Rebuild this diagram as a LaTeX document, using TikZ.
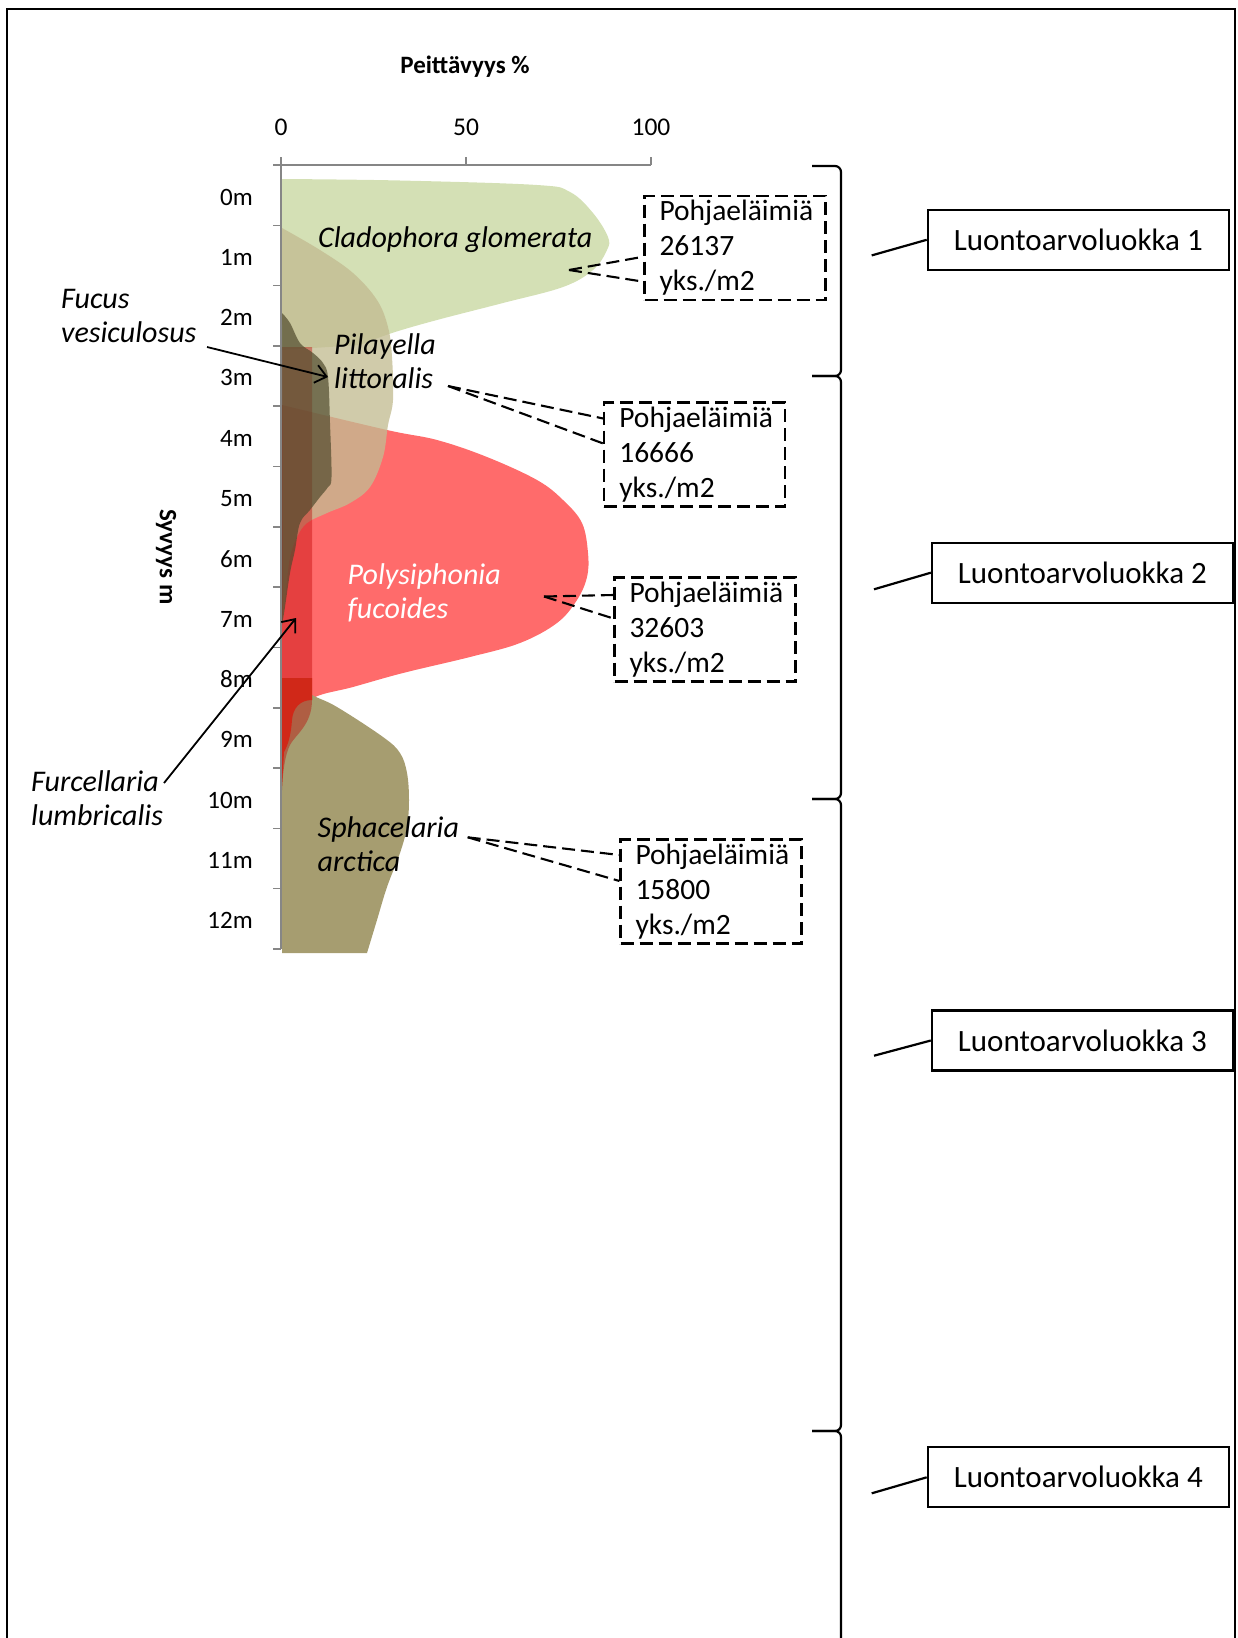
\documentclass[tikz,border=0pt]{standalone}
\usepackage{fontspec}
\setmainfont{Carlito}
\usetikzlibrary{arrows.meta}

\definecolor{cladgreen}{RGB}{212,224,181}
\definecolor{pilatan}{RGB}{195,188,146}
\definecolor{polyred}{RGB}{255,0,0}
\definecolor{furcred}{RGB}{190,0,0}
\definecolor{fucusdark}{RGB}{80,75,45}
\definecolor{sphaolive}{RGB}{166,157,112}
\definecolor{deepred}{RGB}{208,40,24}
\definecolor{axisgray}{RGB}{134,134,134}

\begin{document}
\begin{tikzpicture}[x=1pt,y=-1pt,
  axisline/.style={draw=axisgray, line width=1.6pt},
  depth/.style={anchor=east, inner sep=0pt, font=\fontsize{25}{30}\selectfont},
  pct/.style={inner sep=0pt, font=\fontsize{25.5}{30}\selectfont},
  heading/.style={inner sep=0pt, font=\fontsize{25}{30}\selectfont\bfseries},
  species/.style={anchor=west, inner sep=0pt, align=left, font=\fontsize{30}{34}\selectfont\itshape},
  pohja/.style={draw, dash pattern=on 13pt off 6pt, line width=2.1pt, align=left,
    text width=151pt, inner xsep=15pt, inner ysep=0pt, minimum height=104pt,
    font=\fontsize{29.5}{35}\selectfont},
  lead/.style={dash pattern=on 13pt off 6pt, line width=2.1pt},
  luokka/.style={draw, line width=2.2pt, minimum width=301pt, minimum height=60pt,
    inner sep=0pt, font=\fontsize{31}{36}\selectfont},
  brk/.style={line width=2.2pt, rounded corners=6pt},
  arr/.style={-{Straight Barb[length=11pt,width=18pt]}, line width=1.8pt}
]
\useasboundingbox (0,0) rectangle (1238,1638);

% kasvillisuus
\fill[cladgreen] plot[smooth, tension=0.6] coordinates {(282,179) (400,180.5) (537,185) (570,192) (593,213) (608,237) (607,250) (593,270) (563,287) (503,303) (437,320) (392,333) (360,345)} -- (282,350) -- cycle;
\fill[polyred, fill opacity=0.58] plot[smooth, tension=0.6] coordinates {(282,405) (387,430) (437,440) (487,457) (537,480) (563,500) (582,523) (588,553) (587,577) (577,600) (557,623) (520,643) (470,657) (403,673) (353,687) (313,698) (290,720) (283,760) (282,790)} -- cycle;
\fill[sphaolive] plot[smooth, tension=0.6] coordinates {(282,678) (312,695) (337,707) (383,737) (400,753) (407,773) (409,800) (407,827) (400,853) (387,887) (377,920) (367,953)} -- (282,953) -- cycle;
\fill[pilatan, fill opacity=0.78] plot[smooth, tension=0.6] coordinates {(282,228) (320,250) (353,273) (377,300) (388,327) (392,357) (393,400) (388,425) (383,457) (370,487) (350,503) (327,513) (307,523) (297,537) (290,557) (286,590) (283,620)} -- cycle;
\fill[furcred, fill opacity=0.4] (282,347) -- (312,347) -- (312,700) .. controls (312,725) and (295,735) .. (290,745) .. controls (285,755) and (283,770) .. (282,790) -- cycle;
\fill[fucusdark, fill opacity=0.7] plot[smooth, tension=0.6] coordinates {(282,313) (290,323) (300,343) (313,353) (323,363) (328,377) (330,423) (331.5,477) (328,487) (320,497) (310,510) (300,523) (295,550) (290,573) (285,607) (282,625)} -- cycle;
\fill[deepred] (282,678) -- (312,678) -- (312,700) .. controls (300,700) and (293,708) .. (292,720) .. controls (291,735) and (288,745) .. (284,752) -- (282,786) -- cycle;

% akselit
\draw[axisline] (273,165) -- (651,165);
\draw[axisline] (281,157) -- (281,949);
\foreach \x in {466,651} \draw[axisline] (\x,165) -- (\x,157);
\foreach \k in {1,...,13} \draw[axisline] (273,165+60.3*\k) -- (281,165+60.3*\k);
\foreach \d in {0,...,12} \node[depth] (d\d) at (253,197+60.3*\d) {\d m};
\node[pct] (p0) at (281,127) {0};
\node[pct] (p50) at (466,127) {50};
\node[pct] (p100) at (651,127) {100};
\node[heading] (title) at (465,67) {Peittävyys \%};
\node[heading, rotate=-90] (syvyys) at (166,557) {Syvyys m};

% lajit
\node[species] (clado) at (318,240) {Cladophora glomerata};
\node[species] (pila) at (334,361.5) {Pilayella\\littoralis};
\node[species] (fucus) at (61,315.5) {Fucus\\vesiculosus};
\node[species, text=white] (poly) at (347.5,593) {Polysiphonia\\fucoides};
\node[species] (sphac) at (317.5,844.5) {Sphacelaria\\arctica};
\node[species] (furc) at (31,798.5) {Furcellaria\\lumbricalis};

\coordinate (fucA) at (207,347);
\coordinate (fucB) at (328,377);
\coordinate (furA) at (164,783);
\coordinate (furB) at (296,618);
\draw[arr] (fucA) -- (fucB);
\draw[arr] (furA) -- (furB);

% pohjaelaimet
\node[pohja] (pe1) at (735,247.7) {Pohjaeläimiä\\26137\\yks./m2};
\node[pohja] (pe2) at (694.8,454.5) {Pohjaeläimiä\\16666\\yks./m2};
\node[pohja] (pe3) at (705,629.5) {Pohjaeläimiä\\32603\\yks./m2};
\node[pohja] (pe4) at (711,891.5) {Pohjaeläimiä\\15800\\yks./m2};

\coordinate (c1) at (569,270);
\coordinate (c2) at (448,386);
\coordinate (c3) at (544,596.5);
\coordinate (c4) at (467.7,837.3);
\draw[lead] (c1) edge ([yshift=-9pt]pe1.west);
\draw[lead] (c1) edge ([yshift=-34pt]pe1.west);
\draw[lead] (c2) edge ([yshift=36pt]pe2.west);
\draw[lead] (c2) edge ([yshift=11pt]pe2.west);
\draw[lead] (c3) edge ([yshift=34.5pt]pe3.west);
\draw[lead] (c3) edge ([yshift=11pt]pe3.west);
\draw[lead] (c4) edge ([yshift=36.5pt]pe4.west);
\draw[lead] (c4) edge ([yshift=10.5pt]pe4.west);

% luontoarvoluokat
\draw[brk] (812,166) -| (841,376) -- (812,376);
\draw[brk] (812,376) -| (841,799) -- (812,799);
\draw[brk] (812,799) -| (841,1431) -- (812,1431);
\draw[brk] (812,1431) -| (841,1660);

\node[luokka] (lk1) at (1078.3,239.8) {Luontoarvoluokka 1};
\node[luokka] (lk2) at (1082.4,572.7) {Luontoarvoluokka 2};
\node[luokka] (lk3) at (1082.4,1040.5) {Luontoarvoluokka 3};
\node[luokka] (lk4) at (1078.3,1477.3) {Luontoarvoluokka 4};

\coordinate (a1) at (871.7,255.4);
\coordinate (a2) at (874,589.3);
\coordinate (a3) at (874,1055.7);
\coordinate (a4) at (871.7,1493.3);
\draw[line width=2.2pt] (a1) -- (lk1.west);
\draw[line width=2.2pt] (a2) -- (lk2.west);
\draw[line width=2.2pt] (a3) -- (lk3.west);
\draw[line width=2.2pt] (a4) -- (lk4.west);

% kehys
\draw[line width=2.6pt] (7,1660) -- (7,9) -- (1235,9) -- (1235,1660);
\end{tikzpicture}
\end{document}
